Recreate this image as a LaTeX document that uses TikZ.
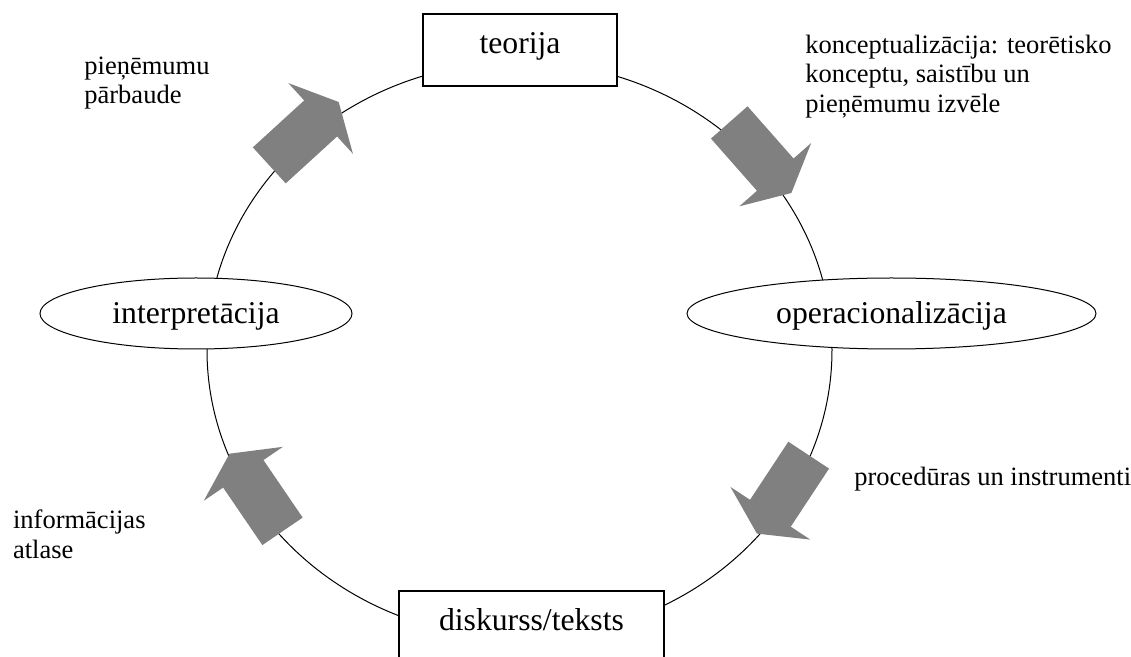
\documentclass[tikz,border=0pt]{standalone}
\usepackage{fontspec}
\setmainfont{Liberation Serif}
\usetikzlibrary{shapes,positioning}

\begin{document}
\begin{tikzpicture}[x=0.5pt, y=-0.5pt]
  \tikzstyle{stage} = [rectangle, draw, fill=white, line width=0.6pt,
                       minimum width=97pt, minimum height=36pt, inner sep=0pt,
                       font=\fontsize{15.85}{19}\selectfont,
                       text height=11pt, text depth=7.5pt]
  \tikzstyle{phase} = [ellipse, draw, fill=white, line width=0.5pt,
                       minimum height=35.5pt, inner sep=0pt,
                       font=\fontsize{15.85}{19}\selectfont,
                       text height=10.5pt, text depth=0pt]
  \tikzstyle{cyclearrow} = [single arrow, fill=gray, draw=none,
                            inner xsep=0pt, inner ysep=12pt,
                            minimum height=47pt,
                            single arrow head extend=11.75pt,
                            single arrow tip angle=126]
  \tikzstyle{note} = [inner sep=0pt, anchor=base west, align=left,
                      font=\fontsize{13.25}{14.85}\selectfont]
  \useasboundingbox (0,0) rectangle (1131,657);
  \coordinate (cyc) at (519.5,350);
  \draw[line width=0.5pt] (cyc) ellipse [x radius=312.5, y radius=288];
  \node[stage] (teor) at (520,50) {teorija};
  \node[stage, minimum width=132.5pt] (disk) at (531.5,627) {diskurss/teksts};
  \node[phase, minimum width=156pt] (interp) at (196,313.5) {interpretācija};
  \node[phase, minimum width=204.5pt] (oper) at (891.5,313.5)
    {operacionalizācija};
  \node[cyclearrow, rotate=42.4, anchor=tip] (totheory) at (339,101.7) {};
  \node[cyclearrow, rotate=-48.6, anchor=tip] (tooper) at (791.7,193.3) {};
  \node[cyclearrow, rotate=-123.4, anchor=tip] (todisk) at (756.7,534) {};
  \node[cyclearrow, rotate=124.3, anchor=tip] (tointerp) at (229.3,453.3) {};
  \node[note] (check) at (84,104) {pieņēmumu\\pārbaude};
  \node[note] (concept) at (805,112.7)
    {konceptualizācija: teorētisko\\konceptu, saistību un\\pieņēmumu izvēle};
  \node[note] (proc) at (854,485.5) {procedūras un instrumenti};
  \node[note] (select) at (12.7,558.3) {informācijas\\atlase};
\end{tikzpicture}
\end{document}
